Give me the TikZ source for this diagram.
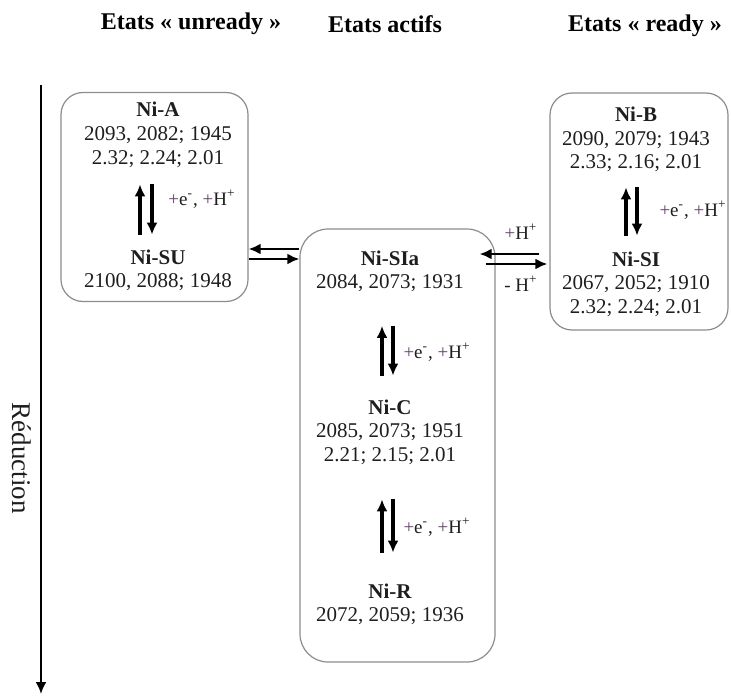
\documentclass[tikz,border=0pt]{standalone}
\usepackage{fontspec}
\setmainfont{Liberation Serif}
\usepackage{tikz}
\usetikzlibrary{arrows.meta}
\definecolor{boxgray}{RGB}{140,140,140}
\definecolor{txtgray}{RGB}{30,30,30}
\definecolor{plusviolet}{RGB}{105,60,115}
\newcommand{\pl}{\textcolor{plusviolet}{+}}

\begin{document}
\begin{tikzpicture}[x=0.5pt,y=-0.5pt,node distance=11.75pt,
    >={Latex[length=6pt,width=5.5pt]},
    title/.style={font=\fontsize{12}{14}\selectfont\bfseries},
    box/.style={draw=boxgray,line width=0.6pt,rounded corners=11pt},
    state/.style={font=\fontsize{10.5}{12}\selectfont\bfseries,text=txtgray,
        inner sep=2pt,text height=7pt,text depth=2pt},
    num/.style={font=\fontsize{10.5}{12}\selectfont,text=txtgray,
        inner sep=2pt,text height=7pt,text depth=2pt},
    rxn/.style={font=\fontsize{9.5}{11}\selectfont,text=txtgray},
    rev/.style={->,line width=1.6pt},
    hrev/.style={->,line width=1.2pt}]
    \useasboundingbox (0,0) rectangle (731,695);
    % column titles
    \node[title] (tU) at (191,24) {Etats « unready »};
    \node[title] (tA) at (385,24) {Etats actifs};
    \node[title] (tR) at (645,26) {Etats « ready »};
    % reduction axis
    \coordinate (ax1) at (41,85);
    \coordinate (ax2) at (41,694);
    \draw[->,line width=1.1pt] (ax1) -- (ax2);
    \node[rotate=-90,font=\fontsize{13.5}{15}\selectfont,text=txtgray] (red) at (22,458) {Réduction};
    % boxes
    \node[box,minimum width=93.5pt,minimum height=104.5pt] (boxA) at (154.5,197) {};
    \node[box,minimum width=97.5pt,minimum height=216.5pt,rounded corners=14pt] (boxC) at (397.5,445.5) {};
    \node[box,minimum width=89pt,minimum height=118.5pt] (boxB) at (639,211.5) {};
    % unready states
    \node[state] (nA) at (158,112) {Ni-A};
    \node[num] (vA1) [below of=nA] {2093, 2082; 1945};
    \node[num] (vA2) [below of=vA1] {2.32; 2.24; 2.01};
    \node[state] (nSU) at (158,259) {Ni-SU};
    \node[num] (vSU1) [below of=nSU] {2100, 2088; 1948};
    \draw[rev,shorten <=5.5pt,shorten >=6pt] ([xshift=-9pt]nSU.north) -- ([xshift=-9pt]vA2.south);
    \draw[rev,shorten <=6pt,shorten >=5.5pt] ([xshift=-3pt]vA2.south) -- ([xshift=-3pt]nSU.north);
    \node[rxn] (eA) at (202,199) {\pl e\textsuperscript{-}, \pl H\textsuperscript{+}};
    % active states
    \node[state] (nSIa) at (390,260) {Ni-SIa};
    \node[num] (vSIa1) [below of=nSIa] {2084, 2073; 1931};
    \node[state] (nC) at (390,409) {Ni-C};
    \node[num] (vC1) [below of=nC] {2085, 2073; 1951};
    \node[num] (vC2) [below of=vC1] {2.21; 2.15; 2.01};
    \node[state] (nR) at (390,593) {Ni-R};
    \node[num] (vR1) [below of=nR] {2072, 2059; 1936};
    \draw[rev,shorten <=10pt,shorten >=14.5pt] ([xshift=-4pt]nC.north) -- ([xshift=-4pt]vSIa1.south);
    \draw[rev,shorten <=14.5pt,shorten >=10pt] ([xshift=1.5pt]vSIa1.south) -- ([xshift=1.5pt]nC.north);
    \node[rxn] (eC1) at (437,352) {\pl e\textsuperscript{-}, \pl H\textsuperscript{+}};
    \draw[rev,shorten <=13.5pt,shorten >=15pt] ([xshift=-4pt]nR.north) -- ([xshift=-4pt]vC2.south);
    \draw[rev,shorten <=15pt,shorten >=13.5pt] ([xshift=1.5pt]vC2.south) -- ([xshift=1.5pt]nR.north);
    \node[rxn] (eC2) at (437,527) {\pl e\textsuperscript{-}, \pl H\textsuperscript{+}};
    % ready states
    \node[state] (nB) at (636,117) {Ni-B};
    \node[num] (vB1) [below of=nB] {2090, 2079; 1943};
    \node[num] (vB2) [below of=vB1] {2.33; 2.16; 2.01};
    \node[state] (nSI) at (636,261) {Ni-SI};
    \node[num] (vSI1) [below of=nSI] {2067, 2052; 1910};
    \node[num] (vSI2) [below of=vSI1] {2.32; 2.24; 2.01};
    \draw[rev,shorten <=6pt,shorten >=5pt] ([xshift=-5pt]nSI.north) -- ([xshift=-5pt]vB2.south);
    \draw[rev,shorten <=5pt,shorten >=6pt] ([xshift=0.5pt]vB2.south) -- ([xshift=0.5pt]nSI.north);
    \node[rxn] (eB) at (693,210) {\pl e\textsuperscript{-}, \pl H\textsuperscript{+}};
    % exchanges between columns
    \draw[hrev] (boxC.west |- 0,249) -- (boxA.east |- 0,249);
    \draw[hrev] (boxA.east |- 0,259) -- (boxC.west |- 0,259);
    \draw[hrev,shorten <=5pt,shorten >=-8pt] (boxB.west |- 0,254) -- (boxC.east |- 0,254);
    \draw[hrev,shorten <=-5pt,shorten >=1pt] (boxC.east |- 0,264) -- (boxB.west |- 0,264);
    \node[rxn] (hp) at (521,232) {\pl H\textsuperscript{+}};
    \node[rxn] (hm) at (521,284) {- H\textsuperscript{+}};
\end{tikzpicture}
\end{document}
